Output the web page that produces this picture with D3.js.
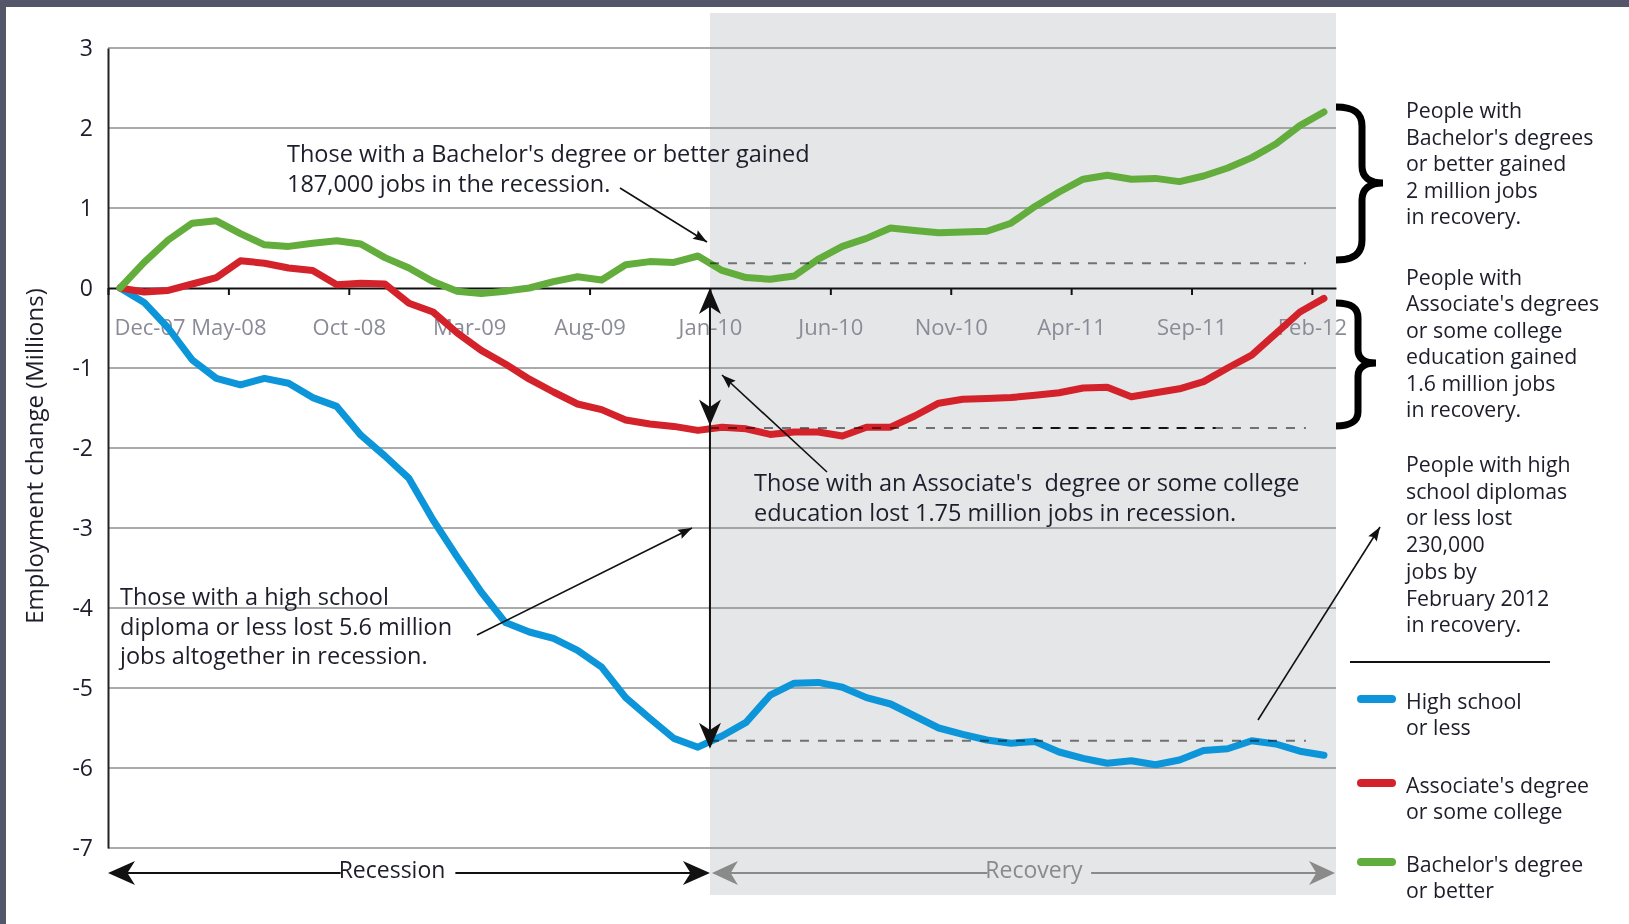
<!DOCTYPE html>
<html><head><meta charset="utf-8">
<script src="https://cdn.jsdelivr.net/npm/d3@7"></script>
<style>
body{margin:0;background:#fff;}
svg text{font-family:"Open Sans",sans-serif;white-space:pre;}
</style></head><body>
<svg id="chart" width="1629" height="924"></svg>
<script>
// ---------- data ----------
const months = ["Dec-07",
 "Jan-08","Feb-08","Mar-08","Apr-08","May-08","Jun-08","Jul-08","Aug-08","Sep-08","Oct-08","Nov-08","Dec-08",
 "Jan-09","Feb-09","Mar-09","Apr-09","May-09","Jun-09","Jul-09","Aug-09","Sep-09","Oct-09","Nov-09","Dec-09",
 "Jan-10","Feb-10","Mar-10","Apr-10","May-10","Jun-10","Jul-10","Aug-10","Sep-10","Oct-10","Nov-10","Dec-10",
 "Jan-11","Feb-11","Mar-11","Apr-11","May-11","Jun-11","Jul-11","Aug-11","Sep-11","Oct-11","Nov-11","Dec-11",
 "Jan-12","Feb-12"];
const tickLabels = ["Dec-07","May-08","Oct -08","Mar-09","Aug-09","Jan-10","Jun-10","Nov-10","Apr-11","Sep-11","Feb-12"];
const yTicks = [3,2,1,0,-1,-2,-3,-4,-5,-6,-7];

const highSchool = [0,-0.18,-0.5,-0.9,-1.13,-1.21,-1.13,-1.19,-1.37,-1.48,-1.84,-2.1,-2.38,-2.9,-3.36,-3.8,-4.18,-4.3,-4.38,-4.53,-4.74,-5.12,-5.38,-5.63,-5.74,
 -5.6,-5.43,-5.09,-4.94,-4.93,-4.99,-5.12,-5.2,-5.35,-5.5,-5.58,-5.65,-5.69,-5.67,-5.8,-5.88,-5.94,-5.91,-5.96,-5.9,-5.78,-5.76,-5.66,-5.7,-5.79,-5.84];
const associate = [0,-0.05,-0.03,0.05,0.13,0.34,0.31,0.25,0.22,0.04,0.06,0.05,-0.19,-0.3,-0.56,-0.78,-0.95,-1.14,-1.3,-1.45,-1.52,-1.65,-1.7,-1.73,-1.78,
 -1.74,-1.76,-1.83,-1.8,-1.8,-1.85,-1.74,-1.74,-1.6,-1.44,-1.39,-1.38,-1.37,-1.34,-1.31,-1.25,-1.24,-1.36,-1.31,-1.26,-1.17,-1.0,-0.84,-0.57,-0.3,-0.13];
const bachelor = [0,0.32,0.6,0.81,0.84,0.68,0.54,0.52,0.56,0.59,0.55,0.38,0.25,0.08,-0.04,-0.07,-0.04,0.0,0.08,0.14,0.1,0.29,0.33,0.32,0.4,
 0.22,0.13,0.11,0.15,0.36,0.52,0.62,0.75,0.72,0.69,0.7,0.71,0.81,1.02,1.2,1.36,1.41,1.36,1.37,1.33,1.4,1.5,1.63,1.8,2.03,2.2];
// levels at end of recession (dashed reference lines) and arrow tips
const recessionLevels = {bachelor:0.31, associate:-1.75, highSchool:-5.66};
const arrowTips = {associate:-1.72, highSchool:-5.76};

const seriesNames = ["High school\nor less","Associate's degree\nor some college","Bachelor's degree\nor better"];
const seriesColors = ["#0d95d9","#d3222a","#63ad3c"];

// ---------- setup ----------
const W=1629, H=924;
const svg = d3.select("#chart");
const txt = "#1d1d2b";
const x = d3.scaleLinear().domain([0, months.length]).range([108, 1336]);
const y = d3.scaleLinear().domain([-7, 3]).range([848, 48]);
const mx = i => x(i + 0.5);
const recStart = months.indexOf("Jan-10");

svg.append("rect").attr("width",W).attr("height",H).attr("fill","#fff");
svg.append("rect").attr("width",W).attr("height",7).attr("fill","#54576a");
svg.append("rect").attr("width",6).attr("height",H).attr("fill","#54576a");

// recovery shading
svg.append("rect").attr("x",x(recStart)).attr("y",13)
  .attr("width",x(months.length)-x(recStart)).attr("height",882).attr("fill","#e5e6e8");

// gridlines
svg.append("g").selectAll("line").data(yTicks.filter(d=>d!==0)).join("line")
  .attr("x1",x(0)).attr("x2",x(months.length)).attr("y1",d=>y(d)).attr("y2",d=>y(d))
  .attr("stroke","#8e8e8e").attr("stroke-width",1.6);

// y axis
const yAxis = svg.append("g").attr("transform",`translate(${x(0)},0)`)
  .call(d3.axisLeft(y).tickValues(yTicks).tickSize(0).tickPadding(15).tickFormat(d=>String(d)));
yAxis.select(".domain").attr("stroke","#222").attr("stroke-width",2);
yAxis.selectAll("text").attr("font-size",23).attr("fill",txt).style("font-family","'Open Sans',sans-serif");

// x axis at zero
const tickIdx = tickLabels.map((d,k)=>k*5);
const xAxis = svg.append("g").attr("transform",`translate(0,${y(0)})`)
  .call(d3.axisBottom(x).tickValues(tickIdx).tickSize(7).tickPadding(24).tickSizeOuter(0)
    .tickFormat((d,k)=>tickLabels[k]));
xAxis.select(".domain").attr("stroke","#111").attr("stroke-width",2);
xAxis.selectAll(".tick line").attr("stroke","#111").attr("stroke-width",2);
xAxis.selectAll("text").attr("font-size",22).attr("fill","#8b8b98").style("font-family","'Open Sans',sans-serif");
xAxis.selectAll(".tick").filter(d=>d===0).select("text").attr("text-anchor","start").attr("x",6);

// series
const line = d3.line().x((d,i)=>mx(i)).y(d=>y(d));
[highSchool, associate, bachelor].forEach((s,k)=>{
  svg.append("path").datum(s).attr("d",line).attr("fill","none")
    .attr("stroke",seriesColors[k]).attr("stroke-width",7).attr("stroke-linejoin","round").attr("stroke-linecap","round");
});

// dashed reference lines
const dashEnd = 49.75;
[recessionLevels.bachelor, recessionLevels.associate, recessionLevels.highSchool].forEach(v=>{
  svg.append("line").attr("x1",x(recStart)).attr("x2",x(dashEnd)).attr("y1",y(v)).attr("y2",y(v))
    .attr("stroke","#7d7d7d").attr("stroke-width",2).attr("stroke-dasharray","9,9")
    .style("mix-blend-mode","multiply");
});
svg.append("line").attr("x1",x(38.4)).attr("x2",x(46)).attr("y1",y(recessionLevels.associate)).attr("y2",y(recessionLevels.associate))
  .attr("stroke","#111").attr("stroke-width",2).attr("stroke-dasharray","9,9");

// arrowhead helper
function head(tx,ty,ang,len,hw,color,notch){
  const n = notch===undefined?0.72:notch;
  svg.append("path").attr("d",`M0,0L${-len},${-hw}L${-len*n},0L${-len},${hw}Z`)
    .attr("transform",`translate(${tx},${ty}) rotate(${ang})`).attr("fill",color);
}
function arrow(x1,y1,x2,y2){
  svg.append("line").attr("x1",x1).attr("y1",y1).attr("x2",x2).attr("y2",y2).attr("stroke","#111").attr("stroke-width",1.6);
  const a = Math.atan2(y2-y1,x2-x1)*180/Math.PI;
  head(x2,y2,a,14,5,"#111",0.85);
}

// vertical arrow at Jan-10
const vx = x(recStart);
svg.append("line").attr("x1",vx).attr("x2",vx).attr("y1",y(0)+4).attr("y2",y(arrowTips.highSchool)-4)
  .attr("stroke","#111").attr("stroke-width",2);
head(vx,y(0),-90,26,11,"#111");
head(vx,y(arrowTips.associate),90,26,11,"#111");
head(vx,y(arrowTips.highSchool),90,26,11,"#111");

// annotation arrows
arrow(620,188,707,242);
arrow(827,472,722,375);
arrow(477,635,692,528);
arrow(1258,720,1380,527);

// text helper
function lines(x0,y0,lh,arr,size,color){
  const t = svg.append("text").attr("font-size",size).attr("fill",color||txt);
  arr.forEach((s,i)=>t.append("tspan").attr("x",x0).attr("y",y0+i*lh).text(s));
  return t;
}
lines(287,162,29.5,["Those with a Bachelor's degree or better gained","187,000 jobs in the recession."],23.5);
lines(754,491,29.5,["Those with an Associate's  degree or some college","education lost 1.75 million jobs in recession."],23.5);
lines(120,605,29.5,["Those with a high school","diploma or less lost 5.6 million","jobs altogether in recession."],23.5);

lines(1406,118,26.5,["People with","Bachelor's degrees","or better gained","2 million jobs","in recovery."],21.3);
lines(1406,285,26.4,["People with","Associate's degrees","or some college","education gained","1.6 million jobs","in recovery."],21.3);
lines(1406,472,26.7,["People with high","school diplomas","or less lost","230,000","jobs by","February 2012","in recovery."],21.3);

// braces
svg.append("path").attr("d","M1336,107 C1353,107 1362,112 1362,126 L1362,166 C1362,177 1369,183 1383,183 C1369,183 1362,189 1362,200 L1362,240 C1362,254 1353,260 1336,260")
  .attr("fill","none").attr("stroke","#000").attr("stroke-width",7);
svg.append("path").attr("d","M1336,303 C1350,303 1358,307 1358,318 L1358,350 C1358,358 1364,363 1376,363 C1364,363 1358,368 1358,376 L1358,412 C1358,421 1350,426 1336,426")
  .attr("fill","none").attr("stroke","#000").attr("stroke-width",7);

// separator
svg.append("line").attr("x1",1350).attr("x2",1550).attr("y1",662).attr("y2",662).attr("stroke","#111").attr("stroke-width",2);

// legend
const legY = [699,783,862];
seriesNames.forEach((n,k)=>{
  svg.append("line").attr("x1",1361).attr("x2",1392).attr("y1",legY[k]).attr("y2",legY[k])
    .attr("stroke",seriesColors[k]).attr("stroke-width",8).attr("stroke-linecap","round");
  lines(1406,legY[k]+10,26,n.split("\n"),21.3);
});

// y axis title
svg.append("text").attr("transform","translate(43,456) rotate(-90)").attr("text-anchor","middle")
  .attr("font-size",24).attr("fill",txt).text("Employment change (Millions)");

// recession / recovery arrows
const by = 873;
const rec = svg.append("text").attr("x",392).attr("y",878).attr("text-anchor","middle").attr("font-size",23).attr("fill",txt).text("Recession");
const rb = rec.node().getBBox();
svg.append("line").attr("x1",x(0)+8).attr("x2",rb.x+2).attr("y1",by).attr("y2",by).attr("stroke","#111").attr("stroke-width",2);
svg.append("line").attr("x1",rb.x+rb.width+10).attr("x2",x(recStart)-8).attr("y1",by).attr("y2",by).attr("stroke","#111").attr("stroke-width",2);
head(x(0),by,180,27,12,"#111");
head(x(recStart),by,0,27,12,"#111");
const rcv = svg.append("text").attr("x",1034).attr("y",878).attr("text-anchor","middle").attr("font-size",23).attr("fill","#8a8a8e").text("Recovery");
const cb = rcv.node().getBBox();
svg.append("line").attr("x1",x(recStart)+10).attr("x2",cb.x+2).attr("y1",by).attr("y2",by).attr("stroke","#8a8a8a").attr("stroke-width",2);
svg.append("line").attr("x1",cb.x+cb.width+8).attr("x2",x(months.length)-8).attr("y1",by).attr("y2",by).attr("stroke","#8a8a8a").attr("stroke-width",2);
head(x(recStart)+2,by,180,26,12,"#8a8a8a");
head(x(months.length)-1,by,0,26,12,"#8a8a8a");
</script>
</body></html>
